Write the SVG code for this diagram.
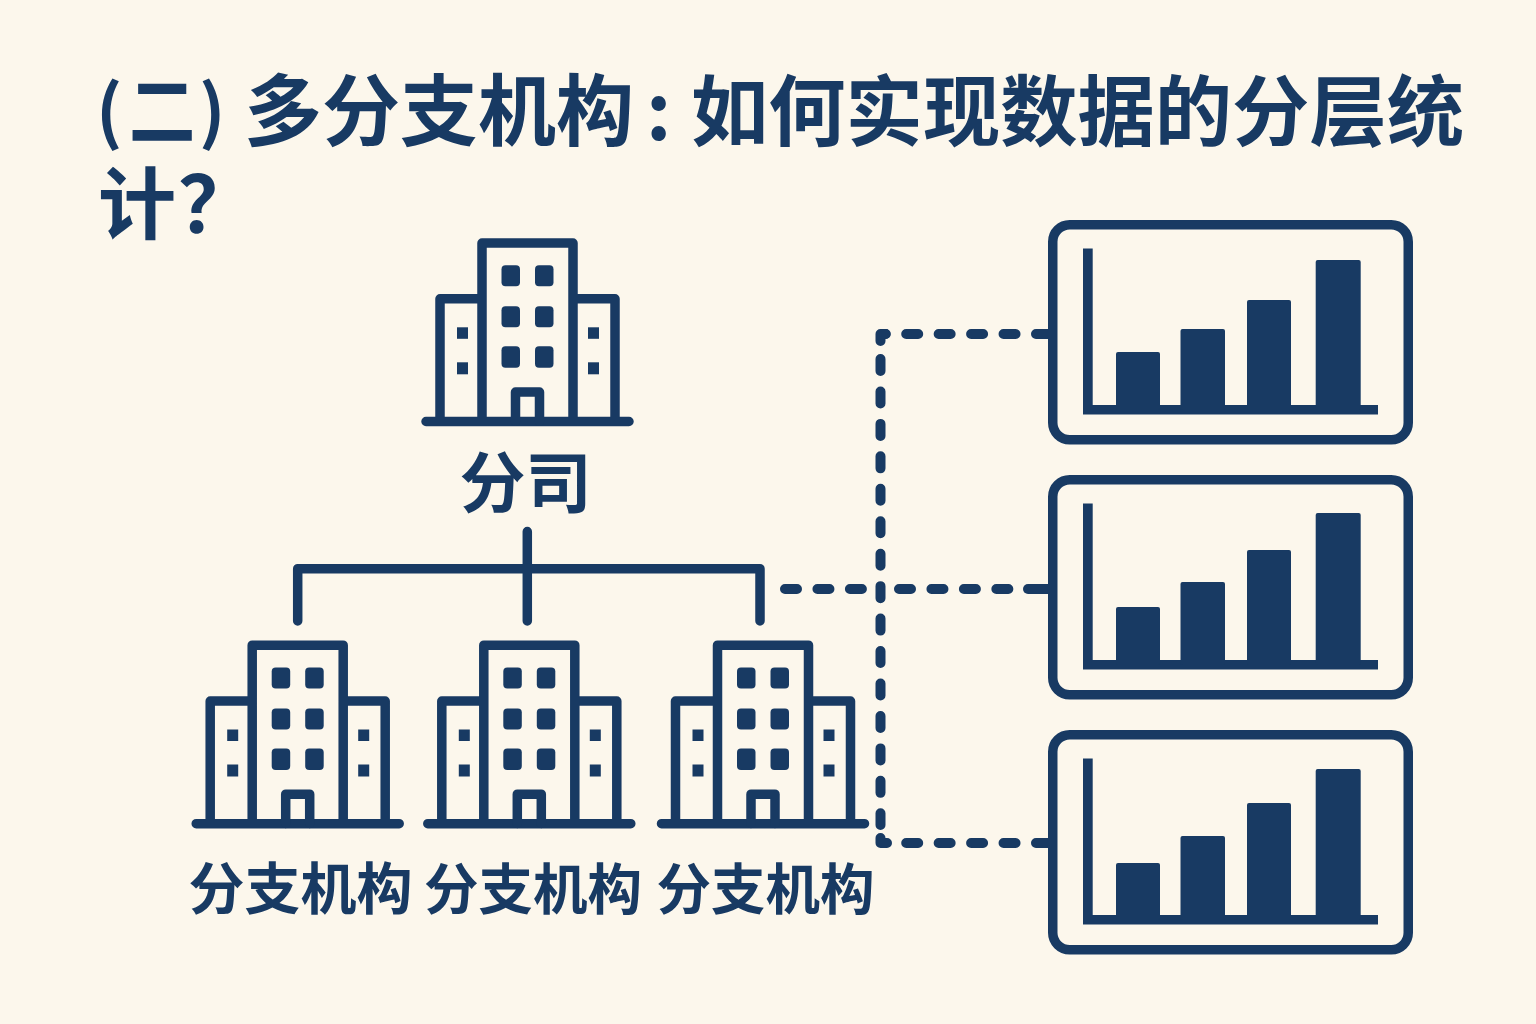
<svg xmlns="http://www.w3.org/2000/svg" width="1536" height="1024" viewBox="0 0 1536 1024">
<style>
text{font-family:"Noto Sans CJK SC","Noto Sans",sans-serif;font-weight:700;fill:#183a63}
.s{fill:none;stroke:#183a63;stroke-width:9.5;stroke-linejoin:round;stroke-linecap:round}
.d{fill:none;stroke:#183a63;stroke-width:10;stroke-linecap:round;stroke-linejoin:round;stroke-dasharray:12 20.45}
.l{fill:none;stroke:#183a63;stroke-width:10;stroke-linecap:round;stroke-linejoin:round}
.f{fill:#183a63}
</style>
<defs>
<g id="bld">
<path class="s" d="M-45.5 183V4.7H45.5V183M-45.5 60.5H-87.5V183M45.5 60.5H87.5V183M-101.5 183.2H101.5"/>
<path class="s" d="M-12 183V153.7H12V183"/>
<g class="f">
<rect x="-26" y="27" width="18.5" height="21" rx="4"/><rect x="7.5" y="27" width="18.5" height="21" rx="4"/>
<rect x="-26" y="68" width="18.5" height="21" rx="4"/><rect x="7.5" y="68" width="18.5" height="21" rx="4"/>
<rect x="-26" y="108" width="18.5" height="21.5" rx="4"/><rect x="7.5" y="108" width="18.5" height="21.5" rx="4"/>
<rect x="-70.5" y="89" width="11" height="11.5"/><rect x="60.5" y="89" width="11" height="11.5"/>
<rect x="-70.5" y="124" width="11" height="12"/><rect x="60.5" y="124" width="11" height="12"/>
</g>
</g>
<g id="chart">
<rect x="4.75" y="4.75" width="355.5" height="215" rx="17" fill="none" stroke="#183a63" stroke-width="9.5"/>
<path class="f" d="M35 28.5H44.7V185H330V194.5H35Z"/>
</g>
</defs>
<rect width="1536" height="1024" fill="#fcf7ec"/>
<g id="title">
<text x="96" y="137" font-size="70">(</text>
<text transform="translate(129 140) scale(.85 1)" font-size="78">二</text>
<text x="199" y="137" font-size="70">)</text>
<text x="244" y="140" font-size="78">多分支机构</text>
<text x="646" y="140" font-size="78">:</text>
<text x="691" y="140" font-size="77.3">如何实现数据的分层统</text>
<text x="98" y="233" font-size="78">计</text>
<text x="178" y="233" font-size="78">？</text>
</g>
<g id="connectors">
<path class="s" d="M527.3 531.5V621M297.7 621V568.7H760V621"/>
<path class="d" d="M1048 334H885.5"/>
<path class="l" d="M885.5 334H880.5V341"/>
<path class="d" d="M880.5 359V825"/>
<path class="l" d="M880.5 838V843H887"/>
<path class="d" d="M1048 843H895"/>
<path class="d" d="M785 589H865"/>
<path class="d" d="M899 589H1012"/>
<path class="l" d="M1028 589H1048"/>
</g>
<g id="company"><use href="#bld" x="527.5" y="238.3"/><text x="525.5" y="507" font-size="66" text-anchor="middle">分司</text></g>
<g id="branch1"><use href="#bld" x="297.7" y="640.5"/><text x="300.5" y="909" font-size="56" text-anchor="middle">分支机构</text></g>
<g id="branch2"><use href="#bld" x="529.3" y="640.5"/><text x="533" y="909" font-size="54.5" text-anchor="middle">分支机构</text></g>
<g id="branch3"><use href="#bld" x="763" y="640.5"/><text x="765.5" y="909" font-size="54.5" text-anchor="middle">分支机构</text></g>
<g id="report1"><use href="#chart" x="1048" y="220"/>
<g class="f"><rect x="1116" y="352" width="44" height="58" rx="2"/><rect x="1180.5" y="329" width="44.5" height="81" rx="2"/><rect x="1247" y="300" width="44" height="110" rx="2"/><rect x="1315.7" y="260" width="45" height="150" rx="2"/></g></g>
<g id="report2"><use href="#chart" x="1048" y="475"/>
<g class="f"><rect x="1116" y="607" width="44" height="58" rx="2"/><rect x="1180.5" y="582" width="44.5" height="83" rx="2"/><rect x="1247" y="550" width="44" height="115" rx="2"/><rect x="1315.7" y="513" width="45" height="152" rx="2"/></g></g>
<g id="report3"><use href="#chart" x="1048" y="730"/>
<g class="f"><rect x="1116" y="863" width="44" height="57" rx="2"/><rect x="1180.5" y="836" width="44.5" height="84" rx="2"/><rect x="1247" y="803" width="44" height="117" rx="2"/><rect x="1315.7" y="769" width="45" height="151" rx="2"/></g></g>
</svg>
